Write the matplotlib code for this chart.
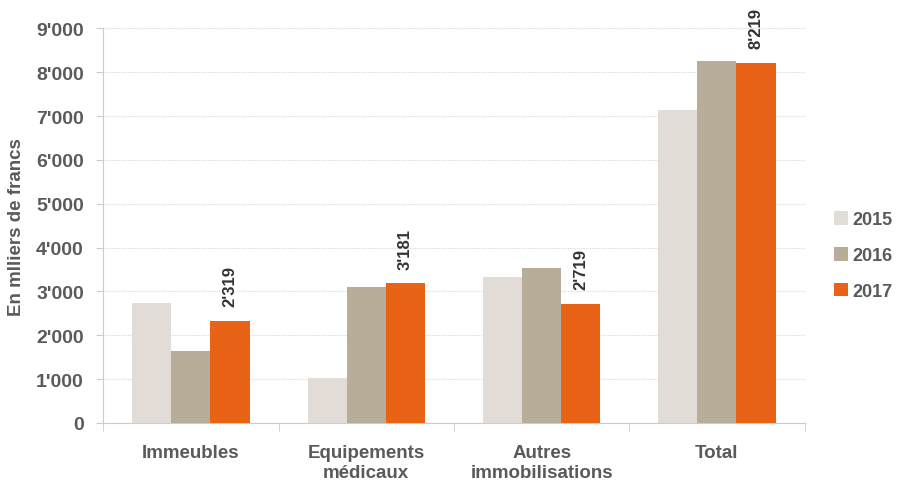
import numpy as np
import matplotlib
matplotlib.use('Agg')
import matplotlib.pyplot as plt
from matplotlib.ticker import FuncFormatter

# données
categories = ['Immeubles', 'Equipements\nmédicaux', 'Autres\nimmobilisations', 'Total']
years = ['2015', '2016', '2017']
v2015 = [2740, 1030, 3340, 7140]
v2016 = [1640, 3110, 3530, 8260]
v2017 = [2319, 3181, 2719, 8219]
labels_2017 = ["2'319", "3'181", "2'719", "8'219"]

colors = ['#E1DDD6', '#B8AD98', '#E86315']
txt = '#5A5A5A'

plt.rcParams['font.family'] = ['Liberation Sans', 'DejaVu Sans']
plt.rcParams['font.weight'] = 'bold'

fig = plt.figure(figsize=(8.98, 4.89), dpi=100)
ax = fig.add_axes([0.115, 0.133, 0.781, 0.807])

x = np.arange(len(categories))
w = 0.223
series = [v2015, v2016, v2017]
for i, (vals, c, y) in enumerate(zip(series, colors, years)):
    ax.bar(x + (i - 1) * w, vals, w, color=c, label=y, zorder=3)

# étiquettes 2017
for xi, v, s in zip(x, v2017, labels_2017):
    ax.text(xi + w, v + 340, s, rotation=90, ha='center', va='bottom',
            fontsize=12, color='#333333', fontweight='bold')

ax.set_xlim(-0.5, len(categories) - 0.5)
ax.set_ylim(0, 9000)
ax.set_yticks(np.arange(0, 9001, 1000))
ax.yaxis.set_major_formatter(FuncFormatter(lambda v, p: f"{int(v):,}".replace(',', "'")))
ax.set_xticks(x)
ax.set_xticklabels(categories, fontsize=13.5, color=txt, fontweight='bold', linespacing=1.25)
ax.set_xticks(np.arange(-0.5, len(categories), 1.0), minor=True)
ax.tick_params(axis='x', which='major', length=0, pad=15)
ax.tick_params(axis='x', which='minor', length=6, color='#C8CDD3', direction='out')
ax.tick_params(axis='y', labelsize=14, labelcolor=txt, length=5, color='#C8CDD3', pad=9)
for t in ax.get_yticklabels():
    t.set_fontweight('bold')

ax.grid(axis='y', color='#DADADA', linestyle=(0, (1, 1)), linewidth=0.8, zorder=0)
for s in ['top', 'right']:
    ax.spines[s].set_visible(False)
for s in ['left', 'bottom']:
    ax.spines[s].set_color('#C8CDD3')

ax.set_ylabel('En mlliers de francs', fontsize=13.5, color=txt, fontweight='bold', labelpad=8)

fig.legend(loc='center left', bbox_to_anchor=(0.929, 0.475), frameon=False,
           fontsize=13, labelcolor=txt, handlelength=0.75, handleheight=0.75,
           handletextpad=0.25, labelspacing=1.05, borderaxespad=0, borderpad=0)

fig.savefig('out.png', dpi=100)
